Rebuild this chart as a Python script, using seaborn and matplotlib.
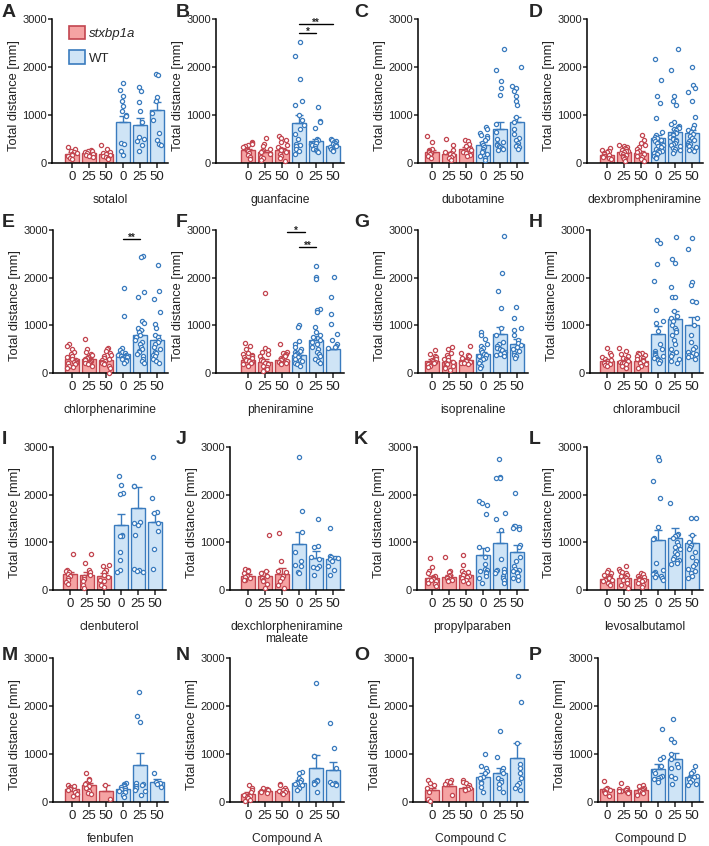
import numpy as np
import pandas as pd
import matplotlib
matplotlib.use('Agg')
import matplotlib.pyplot as plt
import seaborn as sns
from matplotlib.patches import Patch

# ---- data ----
letters = list("ABCDEFGHIJKLMNOP")
drugs = ['sotalol', 'guanfacine', 'dubotamine', 'dexbrompheniramine',
         'chlorphenarimine', 'pheniramine', 'isoprenaline', 'chlorambucil',
         'clenbuterol', 'dexchlorpheniramine\nmaleate', 'propylparaben', 'levosalbutamol',
         'fenbufen', 'Compound A', 'Compound C', 'Compound D']
doses = ['0', '25', '50', '0', '25', '50']
doses_L = ['0', '50', '25', '0', '25', '50']
genotype = ['stxbp1a'] * 3 + ['WT'] * 3

bar_means = [
    [195, 210, 185, 855, 790, 1110],
    [270, 220, 270, 840, 450, 360],
    [230, 180, 290, 370, 700, 860],
    [160, 230, 200, 520, 640, 620],
    [290, 290, 280, 390, 790, 700],
    [280, 240, 280, 380, 690, 510],
    [260, 240, 270, 400, 810, 610],
    [260, 250, 250, 810, 1140, 1000],
    [330, 320, 300, 1360, 1710, 1430],
    [290, 300, 340, 970, 680, 650],
    [260, 280, 310, 730, 980, 790],
    [240, 260, 230, 1040, 1100, 980],
    [270, 350, 220, 270, 770, 410],
    [160, 230, 220, 400, 700, 670],
    [250, 340, 290, 520, 610, 920],
    [270, 240, 240, 680, 890, 520],
]
bar_sems = [
    [25, 20, 28, 130, 150, 170],
    [30, 60, 40, 160, 50, 20],
    [40, 50, 50, 60, 160, 100],
    [20, 30, 40, 60, 60, 60],
    [30, 30, 30, 50, 110, 90],
    [40, 60, 30, 60, 80, 0],
    [30, 40, 30, 50, 150, 100],
    [30, 30, 30, 180, 160, 180],
    [50, 60, 60, 240, 450, 190],
    [40, 90, 130, 240, 130, 70],
    [40, 40, 40, 150, 240, 160],
    [30, 30, 30, 220, 200, 180],
    [30, 50, 140, 30, 250, 60],
    [40, 30, 40, 60, 270, 170],
    [50, 40, 30, 80, 90, 300],
    [30, 30, 30, 110, 130, 50],
]

pts_A = [[340, 290, 260, 230, 210, 190, 170, 140, 110, 80],
         [270, 250, 240, 220, 200, 190, 170, 150, 120],
         [370, 290, 230, 200, 180, 160, 140, 120, 100, 80],
         [1670, 1520, 1405, 1300, 1195, 1090, 1000, 980, 410, 400, 257, 167],
         [1580, 1500, 1280, 1090, 850, 550, 500, 460, 380, 240],
         [1860, 1840, 1370, 1300, 1050, 900, 620, 470, 400, 380]]
pts_B = [[430, 410, 390, 370, 350, 330, 300, 280, 260, 240, 200, 160, 120, 80],
         [530, 400, 350, 300, 280, 250, 220, 180, 120, 100, 60],
         [560, 520, 480, 430, 380, 340, 300, 280, 250, 220, 190, 150, 100, 50],
         [2520, 2220, 1750, 1300, 1200, 1000, 900, 800, 700, 600, 500, 400, 380, 350, 300, 250, 180],
         [1160, 880, 850, 720, 500, 470, 450, 420, 400, 380, 350, 320, 300, 280, 250, 220],
         [500, 480, 460, 440, 420, 400, 380, 370, 350, 330, 300, 280, 250]]
pts_C = [[560, 430, 300, 270, 250, 220, 200, 180, 150, 110],
         [500, 380, 280, 230, 200, 180, 160, 130, 100, 60],
         [470, 450, 400, 350, 320, 300, 270, 230, 200, 170, 150],
         [760, 700, 620, 580, 560, 520, 480, 420, 380, 340, 300, 260, 220, 180, 150, 100, 60],
         [2380, 1940, 1700, 1560, 1420, 820, 650, 500, 440, 400, 370, 350, 330, 310, 300, 280],
         [2000, 1600, 1560, 1500, 1400, 1300, 1200, 950, 850, 700, 600, 520, 480, 420, 380, 350, 330, 300]]
pts_D = [[310, 280, 260, 240, 220, 200, 190, 170, 150, 130, 110, 90],
         [380, 360, 340, 320, 300, 280, 260, 240, 220, 200, 180, 160, 140, 120, 100, 80, 50],
         [590, 470, 420, 380, 330, 300, 260, 220, 180, 150, 120, 80, 50],
         [2170, 1730, 1400, 1250, 940, 650, 580, 550, 520, 500, 480, 450, 420, 400, 380, 350, 330,
          300, 280, 260, 240, 220, 200, 180, 150, 120, 100],
         [2380, 1940, 1400, 1300, 1200, 860, 820, 780, 750, 720, 700, 680, 650, 620, 600, 580, 550,
          520, 500, 480, 450, 420, 400, 380, 350, 320, 300, 280, 250, 200],
         [2000, 1620, 1560, 1480, 1300, 950, 800, 720, 680, 640, 600, 560, 520, 480, 450, 420, 400,
          380, 350, 330, 300, 280, 250]]
pts_E = [[600, 560, 500, 450, 400, 360, 330, 300, 280, 260, 240, 220, 200, 180, 150, 120, 100],
         [720, 500, 450, 400, 370, 340, 320, 300, 280, 260, 240, 220, 200, 180, 150],
         [520, 500, 460, 420, 380, 350, 320, 300, 280, 260, 240, 220, 200, 180, 150, 100, 0],
         [1790, 1190, 520, 480, 450, 420, 400, 380, 370, 360, 350, 340, 330, 320, 300, 280, 260, 220],
         [2460, 2440, 1700, 1590, 1100, 1050, 950, 900, 850, 800, 750, 700, 650, 600, 550, 500, 470,
          440, 400, 350, 300, 250, 200],
         [2270, 1710, 1560, 1270, 1030, 950, 800, 750, 700, 650, 600, 550, 500, 450, 420, 380, 350,
          300, 250, 200]]
pts_F = [[620, 560, 500, 430, 400, 380, 360, 340, 320, 300, 280, 260, 240, 200, 180, 150],
         [1680, 520, 480, 440, 400, 350, 300, 280, 250, 220, 200, 180, 150, 120, 80, 40],
         [600, 440, 420, 400, 380, 350, 320, 300, 280, 260, 240, 220, 200, 180],
         [1010, 970, 680, 600, 550, 500, 470, 450, 420, 400, 380, 350, 330, 300, 280, 250, 220, 180, 150],
         [2250, 2010, 1980, 1350, 1320, 1290, 960, 860, 800, 750, 700, 650, 600, 550, 500, 450, 400,
          350, 300, 250, 200],
         [2020, 1600, 1240, 1030, 820, 700, 600, 560, 540, 520]]
pts_G = [[490, 400, 360, 330, 300, 280, 260, 240, 220, 200, 180, 150, 120],
         [550, 500, 420, 380, 330, 300, 270, 240, 210, 180, 150, 120, 100, 60],
         [570, 420, 380, 350, 320, 300, 280, 260, 240, 220, 200, 180],
         [850, 800, 720, 600, 560, 520, 480, 440, 400, 380, 350, 320, 290, 250, 200, 150, 100],
         [2880, 2090, 1720, 1370, 950, 800, 650, 600, 560, 520, 500, 480, 450, 420, 400, 380, 350],
         [1380, 1160, 950, 900, 800, 700, 620, 580, 540, 500, 460, 420, 380, 350, 320]]
pts_H = [[520, 420, 380, 340, 300, 280, 260, 240, 220, 200, 180, 160, 140],
         [520, 460, 400, 360, 320, 300, 280, 260, 240, 220, 200, 180, 150, 100],
         [430, 420, 400, 380, 350, 320, 300, 280, 250, 220, 180, 150, 100],
         [2780, 2720, 2280, 1930, 1330, 1100, 1050, 880, 600, 500, 460, 420, 400, 380, 360, 340, 320,
          300, 280, 250, 220],
         [2850, 2400, 2300, 1810, 1600, 1600, 1300, 1200, 1150, 1100, 1000, 950, 900, 850, 800, 700,
          600, 500, 450, 400, 350, 300, 250, 200],
         [2840, 2610, 1900, 1850, 1510, 1500, 1150, 1000, 800, 650, 550, 500, 450, 420, 400, 380, 350,
          330, 300]]
pts_I = [[750, 420, 400, 370, 340, 300, 260, 200, 160, 120],
         [750, 560, 420, 380, 320, 280, 230, 180, 110, 50],
         [520, 500, 420, 380, 320, 280, 220, 180, 110, 60],
         [2390, 2200, 2040, 2020, 1150, 1140, 1140, 800, 620, 420, 370],
         [2190, 2180, 1420, 1400, 1360, 1150, 450, 420, 390, 380],
         [2780, 1940, 1640, 1620, 1400, 1240, 850, 440]]
pts_J = [[450, 420, 400, 350, 300, 280, 250, 220, 200],
         [1150, 400, 360, 300, 250, 200, 180, 120, 50],
         [1200, 600, 400, 380, 300, 250, 180, 100, 50],
         [2780, 1650, 1220, 800, 600, 520, 500, 380, 350],
         [1500, 920, 900, 700, 650, 500, 480, 470, 320],
         [1310, 720, 700, 680, 650, 600, 500, 420, 320]]
pts_K = [[680, 480, 400, 350, 300, 280, 260, 240, 220, 200, 180, 150, 120, 80],
         [690, 400, 370, 320, 300, 280, 260, 240, 220, 200, 180],
         [730, 520, 400, 380, 350, 320, 300, 280, 250, 220, 180, 150],
         [1860, 1830, 1790, 1600, 900, 870, 700, 550, 450, 420, 400, 380, 350, 300, 250, 150],
         [2740, 2380, 2360, 2350, 1620, 1500, 1250, 660, 450, 420, 400, 380, 350, 300, 250, 200, 150],
         [2040, 1350, 1340, 1320, 1300, 1290, 950, 900, 700, 600, 500, 450, 420, 400, 380, 350, 300,
          250, 200]]
pts_L = [[430, 380, 350, 320, 300, 280, 250, 220, 200, 180, 150, 100],
         [500, 450, 400, 380, 350, 320, 300, 280, 250, 220, 200, 150, 100, 50],
         [360, 330, 300, 280, 260, 240, 220, 200, 180, 150, 100, 60],
         [2780, 2730, 2280, 1930, 1330, 1100, 1060, 560, 420, 380, 360, 340, 320, 300, 280, 260, 200],
         [1820, 1170, 1160, 1140, 1100, 1000, 950, 900, 850, 800, 750, 700, 650, 620, 600, 560, 550],
         [1520, 1510, 1150, 1000, 950, 900, 850, 800, 700, 600, 550, 500, 450, 400, 350, 300, 250]]
pts_M = [[360, 340, 320, 300, 280, 260, 240, 200, 160, 120],
         [600, 480, 450, 400, 370, 340, 300, 230, 180, 160],
         [360, 70],
         [400, 380, 360, 340, 320, 300, 280, 260, 230, 200, 150, 100],
         [2290, 1800, 1660, 400, 370, 350, 330, 300, 260, 220, 150],
         [600, 420, 400, 380, 320]]
pts_N = [[350, 300, 250, 200, 150, 120, 100, 80, 50, 20],
         [300, 280, 260, 250, 240, 220, 200, 180],
         [380, 350, 300, 260, 240, 220, 200, 180, 160],
         [620, 600, 500, 450, 420, 400, 370, 350, 300, 250],
         [2480, 960, 950, 450, 440, 420, 400, 380, 200],
         [1640, 1120, 700, 420, 400, 380, 370, 350]]
pts_O = [[450, 400, 360, 300, 200, 60, 30],
         [460, 440, 420, 380, 140],
         [450, 420, 400, 360, 320, 300, 280, 260, 250],
         [1010, 750, 700, 650, 600, 520, 500, 420, 400, 320, 200],
         [1470, 930, 700, 650, 600, 500, 450, 420, 380, 300, 200],
         [2620, 2080, 1220, 800, 700, 600, 500, 400, 350, 300, 250]]
pts_P = [[440, 300, 280, 250, 230, 200, 180, 120],
         [390, 300, 280, 260, 250, 240, 230, 220, 200, 180],
         [350, 330, 300, 280, 260, 240, 220, 200, 180, 150],
         [1520, 940, 900, 750, 650, 600, 550, 520, 500, 480, 450, 420],
         [1720, 1310, 1250, 1000, 900, 800, 720, 700, 550, 500, 370],
         [750, 640, 600, 550, 520, 500, 480, 450, 420, 380, 350]]

all_pts = [pts_A, pts_B, pts_C, pts_D, pts_E, pts_F, pts_G, pts_H,
           pts_I, pts_J, pts_K, pts_L, pts_M, pts_N, pts_O, pts_P]

# significance brackets: panel, x from, x to, height, label
sig_panel = [1, 1, 4, 5, 5]
sig_x1 = [3, 3, 3, 2.3, 3]
sig_x2 = [4, 5, 4, 3.35, 4]
sig_y = [2700, 2900, 2810, 2960, 2640]
sig_txt = ['*', '**', '**', '*', '**']

# ---- style ----
sns.set_style('ticks')
plt.rcParams['font.family'] = ['Liberation Sans', 'DejaVu Sans']
plt.rcParams['axes.linewidth'] = 1.1

fills = {'stxbp1a': '#F5A3A3', 'WT': '#CFE4F6'}
edges = {'stxbp1a': '#C2454F', 'WT': '#3A7BBE'}
TXT = '#222222'

W, H = 709, 846
fig = plt.figure(figsize=(W / 100, H / 100), dpi=100)

# layout in pixels
axis_x = [52, 216, 418, 587, 53, 216, 418, 590, 53, 230, 417, 587, 53, 230, 413, 598]
first_x = [72, 248, 432, 607, 72, 248, 432, 607, 70, 248, 432, 607, 72, 248, 432, 607]
row_top = [19, 230, 447, 658]
row_zero = [163, 373, 590, 802]
letter_x = [2, 176, 354, 529]
letter_y = [17, 227, 444, 660]
STEP = 17
keys = ['g0', 'g1', 'g2', 'g3', 'g4', 'g5']

for i in range(16):
    r, c = divmod(i, 4)
    left = axis_x[i]
    right = first_x[i] + 5 * STEP + 11
    top, bot = row_top[r], row_zero[r]
    ax = fig.add_axes([left / W, 1 - bot / H, (right - left) / W, (bot - top) / H])

    bars = pd.DataFrame({'key': keys, 'mean': bar_means[i], 'geno': genotype})
    rows = [(keys[j], v, genotype[j]) for j in range(6) for v in all_pts[i][j]]
    pts = pd.DataFrame(rows, columns=['key', 'dist', 'geno'])

    for g in ['stxbp1a', 'WT']:
        sns.barplot(data=bars[bars.geno == g], x='key', y='mean', order=keys,
                    color=fills[g], edgecolor=edges[g], linewidth=1.0, width=0.82,
                    saturation=1, errorbar=None, ax=ax)
    for g, idx in [('stxbp1a', [0, 1, 2]), ('WT', [3, 4, 5])]:
        m = [bar_means[i][j] for j in idx]
        s = [bar_sems[i][j] for j in idx]
        ax.errorbar(idx, m, yerr=[[0] * 3, s], fmt='none', ecolor=edges[g],
                    elinewidth=1.0, capsize=3, capthick=1.0, zorder=3)
    np.random.seed(i + 7)
    for g in ['stxbp1a', 'WT']:
        sns.stripplot(data=pts[pts.geno == g], x='key', y='dist', order=keys,
                      color='white', edgecolor=edges[g], linewidth=0.9, size=3.0,
                      jitter=0.28, ax=ax, zorder=4, clip_on=False)

    ax.set_xlim(-(first_x[i] - left) / STEP, 5 + 11 / STEP)
    ax.set_ylim(0, 3000)
    ax.set_yticks([0, 1000, 2000, 3000])
    ax.set_yticklabels(['0', '1000', '2000', '3000'])
    ax.set_xticks(range(6))
    ax.set_xticklabels(doses_L if i == 11 else doses)
    sns.despine(ax=ax)
    for sp in ['left', 'bottom']:
        ax.spines[sp].set_linewidth(1.1)
        ax.spines[sp].set_color('black')
    ax.tick_params(axis='y', length=3, width=1.1, labelsize=8, pad=0.5, labelcolor=TXT)
    ax.tick_params(axis='x', length=3.5, width=1.1, labelsize=9.5, pad=2, labelcolor=TXT)
    ax.set_ylabel('Total distance [mm]', fontsize=9.3, color=TXT)
    ax.yaxis.set_label_coords(-32 / (right - left), 0.47)
    ax.set_xlabel(drugs[i], fontsize=8.7, color=TXT, labelpad=8, linespacing=1.0)

    for k in range(len(sig_panel)):
        if sig_panel[k] == i:
            ax.plot([sig_x1[k], sig_x2[k]], [sig_y[k], sig_y[k]], color='black', lw=1.0,
                    clip_on=False)
            ax.text((sig_x1[k] + sig_x2[k]) / 2, sig_y[k] - 40, sig_txt[k], ha='center',
                    va='baseline', fontsize=7, fontweight='bold', clip_on=False)

    if i == 0:
        handles = [Patch(facecolor=fills['stxbp1a'], edgecolor=edges['stxbp1a'], lw=1.2,
                         label='stxbp1a'),
                   Patch(facecolor=fills['WT'], edgecolor=edges['WT'], lw=1.2, label='WT')]
        leg = ax.legend(handles=handles, loc='upper left', bbox_to_anchor=(0.1, 0.99),
                        frameon=False, fontsize=9.5, handlelength=1.2, handleheight=1.2,
                        labelspacing=0.8, handletextpad=0.35, borderaxespad=0)
        leg.get_texts()[0].set_fontstyle('italic')

    fig.text(letter_x[c] / W, 1 - letter_y[r] / H, letters[i], fontsize=14,
             fontweight='bold', va='baseline', ha='left')

fig.savefig('out.png', dpi=100)
